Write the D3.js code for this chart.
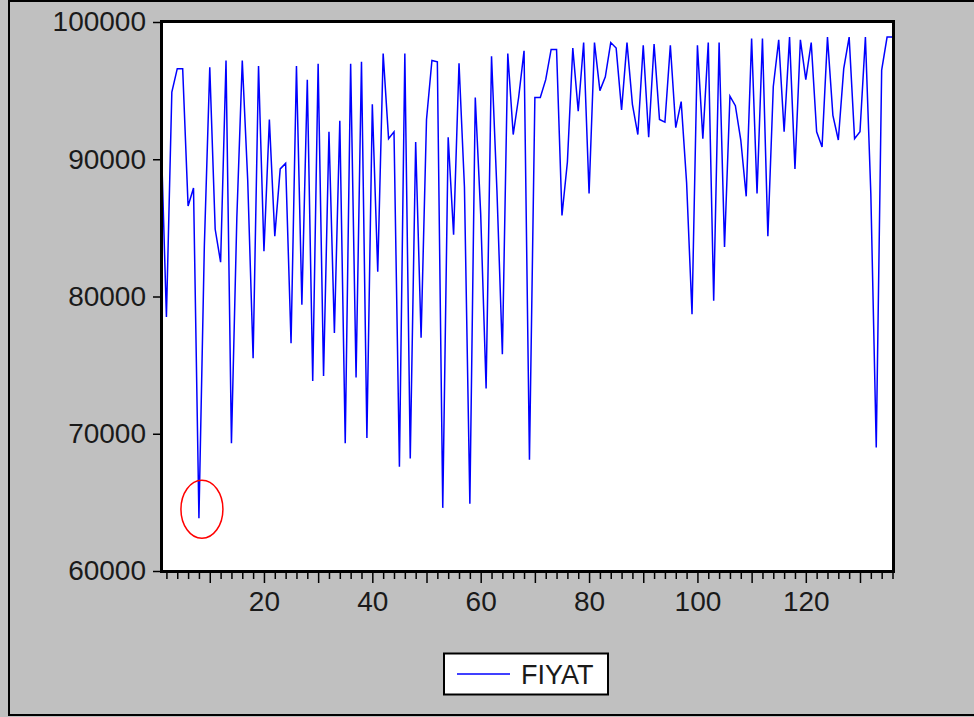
<!DOCTYPE html>
<html>
<head>
<meta charset="utf-8">
<script src="https://cdn.jsdelivr.net/npm/d3@7"></script>
<style>
  html, body { margin: 0; padding: 0; background: #c0c0c0; }
  svg { display: block; }
</style>
</head>
<body>
<div id="chart"></div>
<script>
var fiyat = [
  92000, 78500, 94900, 96600, 96600, 86600, 87900, 63850, 83700, 96700,
  84900, 82500, 97200, 69300, 85800, 97200, 88500, 75500, 96800, 83300,
  92900, 84400, 89300, 89700, 76600, 96800, 79400, 95800, 73850, 96950,
  74200, 92000, 77350, 92800, 69300, 96950, 74100, 97100, 69700, 94000,
  81800, 97700, 91500, 92000, 67600, 97700, 68200, 91250, 77000, 92900,
  97200, 97100, 64600, 91600, 84500, 97000, 88000, 64900, 94500, 86000,
  73300, 97500, 87700, 75800, 97700, 91800, 94500, 97900, 68100, 94500,
  94500, 95800, 98000, 98000, 85900, 89800, 98100, 93500, 98500, 87500,
  98500, 95000, 96000, 98500, 98100, 93600, 98500, 94000, 91800, 98300,
  91600, 98400, 92900, 92700, 98300, 92300, 94200, 88300, 78700, 98300,
  91500, 98500, 79700, 98500, 83600, 94600, 93900, 91400, 87300, 98800,
  87500, 98800, 84400, 95300, 98700, 92000, 98900, 89300, 98700, 95800,
  98500, 92000, 90900, 98900, 93200, 91400, 96600, 98900, 91500, 92000,
  98900, 87500, 69000, 96500, 98900, 98900
];
var yTicks = [60000, 70000, 80000, 90000, 100000];
var xLabels = [20, 40, 60, 80, 100, 120];
var seriesName = "FIYAT";

var width = 974, height = 717;
var plotLeft = 161.5, plotRight = 893.5, plotTop = 21.5, plotBottom = 571.5;

var svg = d3.select("#chart").append("svg")
  .attr("width", width)
  .attr("height", height);

svg.append("rect")
  .attr("x", 0).attr("y", 0)
  .attr("width", width).attr("height", height)
  .attr("fill", "#c0c0c0");

// outer frame
svg.append("rect")
  .attr("x", 9).attr("y", 1)
  .attr("width", 980).attr("height", 714)
  .attr("fill", "none")
  .attr("stroke", "#000")
  .attr("stroke-width", 2);

var n = fiyat.length;
var x = d3.scaleLinear().domain([1, n]).range([161, 892.5]);
var y = d3.scaleLinear().domain([60000, 100000]).range([571, 22]);

// plot area
svg.append("rect")
  .attr("x", plotLeft).attr("y", plotTop)
  .attr("width", plotRight - plotLeft).attr("height", plotBottom - plotTop)
  .attr("fill", "#fff");

var line = d3.line()
  .x(function(d, i) { return x(i + 1); })
  .y(function(d) { return y(d); });

svg.append("path")
  .datum(fiyat)
  .attr("d", line)
  .attr("fill", "none")
  .attr("stroke", "#0000ff")
  .attr("stroke-width", 1.5);

// frame of the plot
svg.append("rect")
  .attr("x", plotLeft).attr("y", plotTop)
  .attr("width", plotRight - plotLeft).attr("height", plotBottom - plotTop)
  .attr("fill", "none")
  .attr("stroke", "#000")
  .attr("stroke-width", 3);

// y axis
var yAxis = d3.axisLeft(y)
  .tickValues(yTicks)
  .tickSize(7)
  .tickPadding(7)
  .tickFormat(d3.format("d"));

var gy = svg.append("g")
  .attr("transform", "translate(" + (plotLeft - 1.5) + ",0)")
  .call(yAxis);
gy.select(".domain").remove();
gy.selectAll("line").attr("stroke", "#000").attr("stroke-width", 1.5);
gy.selectAll("text")
  .attr("fill", "#1a1a1a")
  .style("font-family", "Arial, 'Liberation Sans', sans-serif")
  .style("font-size", "28px");

// x axis: small ticks every 2, long every 10, labels every 20
var xTicks = d3.range(2, n + 1, 2);
var xAxis = d3.axisBottom(x)
  .tickValues(xTicks)
  .tickSize(6)
  .tickFormat(function(d) { return xLabels.indexOf(d) >= 0 ? d : ""; })
  .tickPadding(12);

var gx = svg.append("g")
  .attr("transform", "translate(0," + (plotBottom + 1.5) + ")")
  .call(xAxis);
gx.select(".domain").remove();
gx.selectAll("line")
  .attr("stroke", "#000")
  .attr("stroke-width", 1.5)
  .attr("y2", function(d) { return d % 10 === 0 ? 10 : 6; });
gx.selectAll("text")
  .attr("fill", "#1a1a1a")
  .style("font-family", "Arial, 'Liberation Sans', sans-serif")
  .style("font-size", "28px");

// red circle round the lowest price
var minIndex = d3.minIndex(fiyat);
svg.append("ellipse")
  .attr("cx", x(minIndex + 1) + 3)
  .attr("cy", y(64500))
  .attr("rx", 21)
  .attr("ry", 29)
  .attr("fill", "none")
  .attr("stroke", "#ff0000")
  .attr("stroke-width", 1.5);

// legend
var legend = svg.append("g");
legend.append("rect")
  .attr("x", 444).attr("y", 653.5)
  .attr("width", 164).attr("height", 41)
  .attr("fill", "#fff")
  .attr("stroke", "#000")
  .attr("stroke-width", 2);
legend.append("line")
  .attr("x1", 457).attr("x2", 510)
  .attr("y1", 674).attr("y2", 674)
  .attr("stroke", "#0000ff")
  .attr("stroke-width", 1.5);
legend.append("text")
  .attr("x", 521)
  .attr("y", 684)
  .attr("fill", "#1a1a1a")
  .style("font-family", "Arial, 'Liberation Sans', sans-serif")
  .style("font-size", "27px")
  .text(seriesName);
</script>
</body>
</html>
